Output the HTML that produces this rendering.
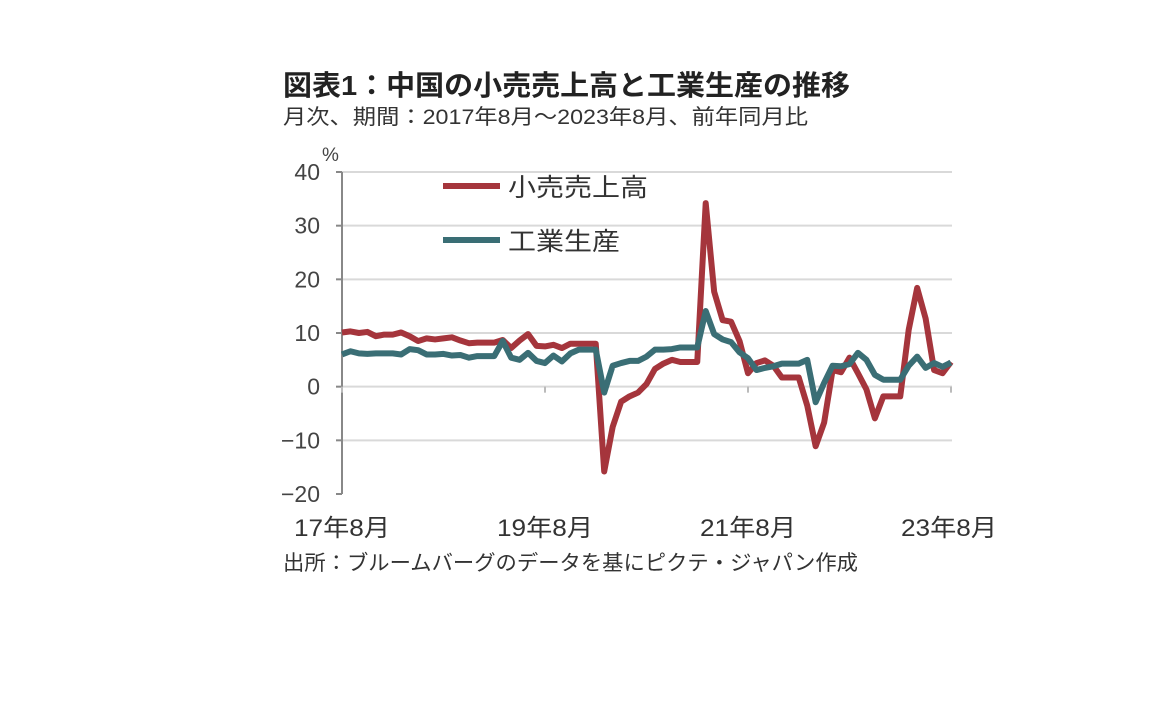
<!DOCTYPE html>
<html><head><meta charset="utf-8"><style>
body{margin:0;background:#fff;width:1152px;height:720px;overflow:hidden}
svg text{font-family:"Liberation Sans","Noto Sans CJK JP",sans-serif}
</style></head><body>
<svg id="c" width="1152" height="720">
<text x="283" y="95" font-size="28" font-weight="bold" fill="#222" textLength="567" lengthAdjust="spacingAndGlyphs">図表1：中国の小売売上高と工業生産の推移</text>
<text x="283" y="124" font-size="21" fill="#333" textLength="525" lengthAdjust="spacingAndGlyphs">月次、期間：2017年8月～2023年8月、前年同月比</text>
<text x="322" y="161" font-size="19" fill="#444">%</text>
<text x="283" y="570" font-size="21" fill="#333" textLength="575" lengthAdjust="spacingAndGlyphs">出所：ブルームバーグのデータを基にピクテ・ジャパン作成</text>
<g id="grid"></g><g id="lines"></g>
<g>
<line x1="443" y1="186" x2="500" y2="186" stroke="#a5353c" stroke-width="6"/>
<text x="508" y="196" font-size="25" fill="#333" textLength="140" lengthAdjust="spacingAndGlyphs">小売売上高</text>
<line x1="443" y1="240" x2="500" y2="240" stroke="#3a6e75" stroke-width="6"/>
<text x="508" y="250" font-size="25" fill="#333" textLength="112" lengthAdjust="spacingAndGlyphs">工業生産</text>
</g>
</svg>
<script>
const yTicks=[40,30,20,10,0,-10,-20];
const yTickLabels=["40","30","20","10","0","-10","-20"];
const xTickIdx=[0,24,48,72];
const xTickLabels=["17年8月","19年8月","21年8月","23年8月"];
const retail=[10.1,10.3,10.0,10.2,9.4,
9.7,9.7,10.1,9.4,8.5,9.0,8.8,9.0,9.2,8.6,8.1,8.2,
8.2,8.2,8.7,7.2,8.6,9.8,7.6,7.5,7.8,7.2,8.0,8.0,
8.0,8.0,-15.8,-7.5,-2.8,-1.8,-1.1,0.5,3.3,4.3,5.0,4.6,
4.6,4.6,34.2,17.7,12.4,12.1,8.5,2.5,4.4,4.9,3.9,1.7,
1.7,1.7,-3.5,-11.1,-6.7,3.1,2.7,5.4,2.5,-0.5,-5.9,-1.8,
-1.8,-1.8,10.6,18.4,12.7,3.1,2.5,4.6];
const industrial=[6.0,6.6,6.2,6.1,6.2,
6.2,6.2,6.0,7.0,6.8,6.0,6.0,6.1,5.8,5.9,5.4,5.7,
5.7,5.7,8.5,5.4,5.0,6.3,4.8,4.4,5.8,4.7,6.2,6.9,
6.9,6.9,-1.1,3.9,4.4,4.8,4.8,5.6,6.9,6.9,7.0,7.3,
7.3,7.3,14.1,9.8,8.8,8.3,6.4,5.3,3.1,3.5,3.8,4.3,
4.3,4.3,5.0,-2.9,0.7,3.9,3.8,4.2,6.3,5.0,2.2,1.3,
1.3,1.3,3.9,5.6,3.5,4.4,3.7,4.5];
const X0=342,X1=951,Y40=172,Ym20=494;
const x=i=>X0+(X1-X0)*i/72;
const y=v=>Y40+(40-v)*(Ym20-Y40)/60;
const NS="http://www.w3.org/2000/svg";
function mk(t,a,p){const e=document.createElementNS(NS,t);for(const k in a)e.setAttribute(k,a[k]);p.appendChild(e);return e;}
const g=document.getElementById('grid');
yTicks.forEach((v,i)=>{
 if(v!==-20){const l=mk('line',{x1:X0,x2:952,y1:y(v),y2:y(v),stroke:'#d9d9d9','stroke-width':2},g);
 
 }
 const tk=mk('line',{x1:X0-6,x2:X0,y1:y(v),y2:y(v),stroke:'#888','stroke-width':2},g);
 
 
 const t=mk('text',{x:320,y:y(v)+8,'text-anchor':'end','font-size':23,fill:'#444'},g);
 t.textContent=yTickLabels[i].replace('-','−');
 
 
});
const ax=mk('line',{x1:X0,x2:X0,y1:Y40,y2:Ym20,stroke:'#888','stroke-width':2},g);


xTickIdx.forEach((idx,i)=>{
 const tk=mk('line',{x1:x(idx),x2:x(idx),y1:y(0),y2:y(0)+6,stroke:'#bbb','stroke-width':2},g);
 
 
 const t=mk('text',{x:x(idx)-48+(i==3?-2:0),y:536,'font-size':24,fill:'#333',textLength:96,lengthAdjust:'spacingAndGlyphs'},g);
 t.textContent=xTickLabels[i];
 
 
});
const L=document.getElementById('lines');
[[industrial,'#3a6e75','industrial-production-line'],[retail,'#a5353c','retail-sales-line']].forEach(([d,c,n])=>{
 const p=mk('polyline',{points:d.map((v,i)=>x(i)+','+y(v)).join(' '),fill:'none',stroke:c,'stroke-width':6,'stroke-linejoin':'round'},L);
 
 
});
L.appendChild(L.firstChild);
</script>
</body></html>
